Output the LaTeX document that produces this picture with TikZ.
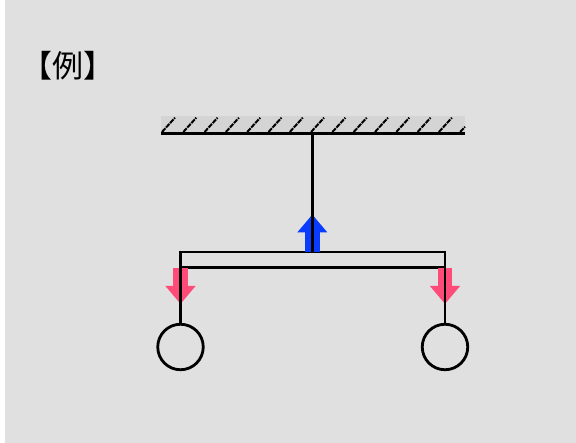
\documentclass[tikz,border=0pt]{standalone}
\usepackage{fontspec}
\newfontfamily\cjk{Noto Sans CJK JP}
\usetikzlibrary{arrows.meta}

\begin{document}
\begin{tikzpicture}
		[x=1pt,y=-1pt,
		%Styles
		black line/.style={line width=2.8pt},
		hatch line/.style={line width=2pt,black,dash pattern=on 5pt off 1pt},
		force/.style={line width=14.5pt,-{Triangle[length=18pt,width=29pt]}},
		weight/.style={circle,draw,line width=2.8pt,minimum size=45.5pt,inner sep=0pt,outer sep=0pt},
		beam/.style={rectangle,draw,line width=2.8pt,minimum width=264.5pt,minimum height=15.3pt,inner sep=0pt,outer sep=0pt}
		]
		
		%Colors
		\definecolor{panelcolor}{HTML}{E0E0E0}
		\definecolor{ceilingcolor}{HTML}{D4D4D4}
		\definecolor{upcolor}{HTML}{0A3CFF}
		\definecolor{downcolor}{HTML}{FF4B78}
		
		\useasboundingbox (0,0) rectangle (576,443);
		\fill[panelcolor] (5,0) rectangle (576,443);
		
		%The graphic
		
		\node[font=\cjk\fontsize{31pt}{31pt}\selectfont,inner sep=0pt] (title) at (67.5,66) {【例】};
		
		\fill[ceilingcolor] (161,116) rectangle (465,133);
		\foreach \i in {0,...,14}
			\draw[hatch line] ({162+21.3*\i},132) -- ({min(162+21.3*\i+13,465)},{132-min(13,465-162-21.3*\i)*1.1});
		
		\coordinate (C1) at (161,133.5);
		\coordinate (C2) at (465,133.5);
		\coordinate (C3) at (312.3,133.5);
		
		\node[beam] (B) at (312.75,259.65) {};
		\node[weight] (L) at (180.5,347) {};
		\node[weight] (R) at (445,347) {};
		
		\coordinate (U1) at (312.3,252);
		\coordinate (U2) at (312.3,214.5);
		\coordinate (D1) at (180.5,268);
		\coordinate (D2) at (180.5,304);
		\coordinate (D3) at (445,268);
		\coordinate (D4) at (445,304);
		
		\draw[force, upcolor] (U1) -- (U2);
		\draw[force, downcolor] (D1) -- (D2);
		\draw[force, downcolor] (D3) -- (D4);
		
		\draw[black line] (C1) -- (C2);
		\draw[black line] (C3) -- (U1);
		\draw[black line] (B.north west) -- (L.north);
		\draw[black line] (B.north east) -- (R.north);
	\end{tikzpicture}
\end{document}
